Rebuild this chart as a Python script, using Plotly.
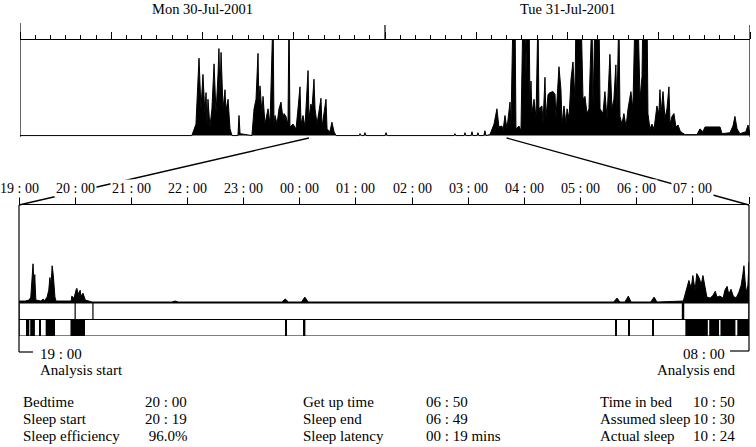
import plotly.graph_objects as go

W, H = 756, 447

# ── Data ─────────────────────────────────────────────────────────────────────

day_labels = ["Mon 30-Jul-2001", "Tue 31-Jul-2001"]
day_centres = [12, 36]

# 48 h overview: hours from Mon 00:00 / activity counts (100 = top of panel)
evening_hours = [
    0, 11.30, 11.57, 11.77, 11.90, 12.03, 12.16, 12.23, 12.30, 12.36,
    12.49, 12.62, 12.76, 12.89, 13.02, 13.08, 13.15, 13.22, 13.35, 13.48,
    13.54, 13.68, 13.81, 13.94, 14.33, 14.40, 14.47, 15.25, 15.39, 15.52,
    15.65, 15.71, 15.78, 15.91, 15.98, 16.11, 16.31, 16.44, 16.64, 16.70,
    16.77, 16.90, 17.03, 17.16, 17.29, 17.36, 17.49, 17.62, 17.69, 17.75,
    17.95, 18.15, 18.28, 18.41, 18.48, 18.61, 18.74, 18.94, 19.00, 19.13,
    19.20, 19.33, 19.40, 19.53, 19.79, 19.86, 20.12, 20.19, 20.38, 20.51,
    20.65, 20.78,
]
evening_counts = [
    0, 0, 12, 81, 28, 64, 23, 45, 12, 38,
    9, 28, 75, 23, 64, 91, 43, 87, 28, 48,
    26, 38, 7, 0, 0, 21, 2, 0, 28, 38,
    86, 33, 52, 23, 41, 12, 28, 12, 130, 12,
    21, 12, 28, 35, 18, 23, 20, 12, 130, 9,
    12, 7, 28, 51, 12, 21, 9, 68, 18, 33,
    28, 59, 28, 12, 39, 9, 38, 7, 4, 14,
    4, 0,
]
night_hours = [
    22.30, 22.36, 22.45, 22.62, 22.68, 22.75, 24.00, 24.07, 24.14, 28.55,
    28.60, 28.66, 29.20, 29.26, 29.32, 29.66, 29.72, 29.78, 30.05, 30.11,
    30.17, 30.50, 30.57, 30.64, 30.90,
]
night_counts = [
    0, 2, 0, 0, 3, 0, 0, 3, 0, 0,
    2, 0, 0, 3, 0, 0, 4, 0, 0, 3,
    0, 0, 5, 0, 1,
]
morning_hours = [
    31.17, 31.36, 31.49, 31.69, 31.76, 31.89, 32.02, 32.22, 32.28, 32.42,
    32.55, 32.61, 32.81, 32.94, 33.07, 33.20, 33.27, 33.34, 33.47, 33.53,
    33.60, 33.66, 33.80, 33.93, 34.06, 34.12, 34.32, 34.39, 34.52, 34.58,
    34.72, 34.85, 35.05, 35.18, 35.24, 35.44, 35.57, 35.64, 35.77, 35.90,
    35.97, 36.10, 36.23, 36.36, 36.49, 36.56, 36.89, 37.02, 37.15, 37.28,
    37.41, 37.61, 37.68, 37.81, 38.07, 38.14, 38.33, 38.46, 38.60, 38.79,
    38.92, 39.05, 39.18, 39.25, 39.38, 39.45, 39.58, 39.71, 39.85, 39.98,
    40.17, 40.30, 40.44, 40.63, 40.77, 40.90, 40.96, 41.23, 41.29, 41.42,
    41.55, 41.69, 41.88, 42.01, 42.08, 42.15, 42.28, 42.41, 42.54, 42.67,
    42.74, 42.87, 43.00, 43.13, 43.27, 43.40, 43.53, 43.73, 44.51, 44.71,
    44.91, 45.04, 46.03, 46.16, 46.68, 46.88, 47.01, 47.15, 47.34, 47.73,
    47.87, 48.00,
]
morning_counts = [
    12, 28, 9, 10, 5, 21, 7, 35, 9, 130,
    130, 7, 10, 5, 130, 130, 59, 130, 130, 38,
    57, 23, 38, 18, 130, 28, 31, 12, 61, 18,
    43, 45, 46, 43, 18, 72, 48, 12, 31, 12,
    28, 18, 59, 77, 38, 130, 130, 38, 41, 23,
    28, 130, 28, 130, 130, 28, 23, 46, 18, 85,
    28, 38, 74, 28, 130, 20, 12, 23, 9, 28,
    46, 28, 130, 130, 38, 62, 130, 130, 23, 7,
    12, 7, 31, 23, 48, 23, 46, 18, 28, 51,
    12, 20, 23, 9, 11, 5, 3, 1, 1, 7,
    4, 9, 9, 2, 3, 10, 20, 7, 2, 4,
    11, 1,
]

# 19:00 - 08:00 analysis window (clock hours, 24 = midnight)
window_start, window_end = 19, 32
window_tick_labels = ["19 : 00", "20 : 00", "21 : 00", "22 : 00", "23 : 00",
                      "00 : 00", "01 : 00", "02 : 00", "03 : 00", "04 : 00",
                      "05 : 00", "06 : 00", "07 : 00"]
win_evening_hours = [
    19.00, 19.11, 19.18, 19.21, 19.25, 19.27, 19.28, 19.30, 19.39, 19.43,
    19.45, 19.50, 19.53, 19.55, 19.57, 19.59, 19.61, 19.64, 19.66, 19.93,
    19.94, 19.98, 20.02, 20.03, 20.05, 20.09, 20.10, 20.14, 20.18, 20.23,
]
win_evening_counts = [
    2, 2, 3, 6, 40, 13, 29, 3, 2, 4,
    2, 6, 13, 26, 18, 38, 29, 6, 2, 2,
    7, 5, 14, 15, 9, 13, 7, 10, 3, 2,
]
win_night_hours = [
    20.30, 21.72, 21.78, 21.84, 23.68, 23.74, 23.80, 24.03, 24.09, 24.15,
    29.59, 29.65, 29.70, 29.79, 29.85, 29.90, 30.25, 30.31, 30.36,
]
win_night_counts = [
    1, 1, 2, 1, 1, 4, 1, 1, 6, 1,
    1, 5, 1, 1, 7, 1, 1, 6, 1,
]
win_morning_hours = [
    30.83, 30.88, 30.93, 30.97, 31.00, 31.04, 31.07, 31.11, 31.15, 31.18,
    31.22, 31.25, 31.31, 31.36, 31.40, 31.43, 31.48, 31.54, 31.57, 31.61,
    31.64, 31.68, 31.72, 31.77, 31.82, 31.86, 31.89, 31.91, 31.93, 31.95,
    31.98, 32.00,
]
win_morning_counts = [
    2, 13, 23, 15, 28, 13, 30, 26, 19, 28,
    13, 6, 5, 8, 12, 6, 7, 5, 13, 17,
    9, 14, 7, 5, 11, 18, 29, 38, 23, 11,
    18, 42,
]

# wake epochs, minutes after 19:00
wake_start_min = [7.5, 12, 21.7, 28.5, 55, 285, 304, 637, 651, 677, 712, 737.5, 749.5, 767.5]
wake_end_min = [11, 17, 23.2, 38.5, 70.5, 286.2, 306, 638.2, 652.2, 678.2, 736, 748, 765.5, 780]

bedtime_h = 20 + 0 / 60
sleep_start_h = 20 + 19 / 60
sleep_end_h = 30 + 49 / 60
getup_h = 30 + 50 / 60

stat_labels = [["Bedtime", "Sleep start", "Sleep efficiency"],
               ["Get up time", "Sleep end", "Sleep latency"],
               ["Time in bed", "Assumed sleep", "Actual sleep"]]
stat_values = [["20 : 00", "20 : 19", " 96.0%"],
               ["06 : 50", "06 : 49", "00 : 19 mins"],
               ["10 : 50", "10 : 30", "10 : 24"]]

# ── Layout geometry (pixels) ─────────────────────────────────────────────────

TOP_X = [20 / W, 750 / W]
TOP_Y = [1 - 137 / H, 1 - 40 / H]
WIN_X = [19 / W, 749 / W]
WIN_Y = [1 - 303 / H, 1 - 205 / H]
ROW_Y = [1 - 336 / H, 1 - 303 / H]
FONT = "Liberation Serif"


def py(p):
    return 1 - p / H


def paper_x(h, dom, rng):
    return dom[0] + (h - rng[0]) / (rng[1] - rng[0]) * (dom[1] - dom[0])


overview_hours = evening_hours + night_hours + morning_hours
overview_counts = evening_counts + night_counts + morning_counts
window_hours = win_evening_hours + win_night_hours + win_morning_hours
window_counts = win_evening_counts + win_night_counts + win_morning_counts
assert len(overview_hours) == len(overview_counts)
assert len(window_hours) == len(window_counts)

fig = go.Figure()

fig.add_trace(go.Scatter(
    x=overview_hours, y=overview_counts, mode="lines",
    line=dict(color="black", width=1), fill="tozeroy", fillcolor="black",
    xaxis="x", yaxis="y", hoverinfo="skip",
))
fig.add_trace(go.Scatter(
    x=window_hours, y=window_counts, mode="lines",
    line=dict(color="black", width=1), fill="tozeroy", fillcolor="black",
    xaxis="x2", yaxis="y2", hoverinfo="skip",
))
fig.add_trace(go.Bar(
    orientation="h",
    y=[0.5] * len(wake_start_min),
    base=[window_start + m / 60 for m in wake_start_min],
    x=[(e - s) / 60 for s, e in zip(wake_start_min, wake_end_min)],
    width=1, marker=dict(color="black", line=dict(width=0)),
    xaxis="x3", yaxis="y3", hoverinfo="skip",
))

shapes = []


def seg(x0, y0, x1, y1, xref="paper", yref="paper", width=1.2):
    shapes.append(dict(type="line", xref=xref, yref=yref, x0=x0, y0=y0, x1=x1, y1=y1,
                       line=dict(color="black", width=width), layer="above"))


# overview frame: day boundaries
seg(0, py(23), 0, py(137), xref="x")
seg(24, py(25), 24, py(40), xref="x")
seg(48, py(25), 48, py(137), xref="x")

# connectors from overview to analysis window
for h in (window_start, window_end):
    seg(paper_x(h, TOP_X, [0, 48]), py(138),
        paper_x(h, WIN_X, [window_start, window_end]), py(205), width=1.3)

# analysis start / end brackets
xl = paper_x(window_start, WIN_X, [window_start, window_end])
xr = paper_x(window_end, WIN_X, [window_start, window_end])
seg(xl, py(205), xl, py(352))
seg(xl, py(352), 33 / W, py(352))
seg(xr, py(205), xr, py(351))
seg(xr, py(351), 730 / W, py(351))

# rows: in-bed row (top) and sleep/wake row (bottom)
for r in (0, 1):
    shapes.append(dict(type="rect", xref="x3", yref="y3", x0=window_start, x1=window_end,
                       y0=r, y1=r + 1, line=dict(color="black", width=1.2), layer="above"))
for h, w in [(bedtime_h, 1.2), (sleep_start_h, 1.2), (sleep_end_h, 1.5), (getup_h, 1.5)]:
    seg(h, 1, h, 2, xref="x3", yref="y3", width=w)

annotations = []
for lab, c in zip(day_labels, day_centres):
    annotations.append(dict(text=lab, x=c, xref="x", y=py(9), yref="paper",
                            yanchor="middle", showarrow=False, font=dict(size=14.5)))
for i, lab in enumerate(window_tick_labels):
    annotations.append(dict(text=lab, x=window_start + i, xref="x2", y=py(188), yref="paper",
                            yanchor="middle", showarrow=False, bgcolor="white", borderpad=1))

annotations += [
    dict(text="19 : 00", x=38 / W, y=py(354), xanchor="left"),
    dict(text="Analysis start", x=38 / W, y=py(370), xanchor="left"),
    dict(text="08 : 00", x=727 / W, y=py(354), xanchor="right"),
    dict(text="Analysis end", x=737 / W, y=py(370), xanchor="right"),
]
for a in annotations[-4:]:
    a.update(xref="paper", yref="paper", yanchor="middle", showarrow=False,
             font=dict(size=15))

label_cols = [21, 301, 598]
value_cols = [143, 424, 691]
row_y = [402, 419, 436]
for c in range(3):
    for r in range(3):
        for txt, col in ((stat_labels[c][r], label_cols[c]), (stat_values[c][r], value_cols[c])):
            annotations.append(dict(text=txt, x=col / W, y=py(row_y[r]),
                                    xref="paper", yref="paper", xanchor="left",
                                    yanchor="middle", showarrow=False, font=dict(size=15)))

AX_OFF = dict(visible=False, showgrid=False, zeroline=False)

fig.update_layout(
    width=W, height=H, margin=dict(l=0, r=0, t=0, b=0),
    paper_bgcolor="white", plot_bgcolor="white", showlegend=False,
    font=dict(family=FONT, size=14, color="black"),
    xaxis=dict(domain=TOP_X, range=[0, 48], side="top", anchor="y",
               showline=True, linecolor="black", linewidth=1.2,
               ticks="outside", ticklen=7, tickwidth=1, tickcolor="black",
               dtick=6, tick0=0, showticklabels=False, showgrid=False, zeroline=False,
               minor=dict(ticks="outside", ticklen=4, dtick=1, tick0=0,
                          tickcolor="black", tickwidth=1, showgrid=False)),
    yaxis=dict(domain=TOP_Y, range=[-1.5, 100], anchor="x", **AX_OFF),
    xaxis2=dict(domain=WIN_X, range=[window_start, window_end], side="top", anchor="y2",
                showline=True, linecolor="black", linewidth=1.2,
                ticks="outside", ticklen=7, tickwidth=1, tickcolor="black",
                dtick=1, tick0=window_start, showticklabels=False,
                showgrid=False, zeroline=False),
    yaxis2=dict(domain=WIN_Y, range=[0, 100], anchor="x2", **AX_OFF),
    xaxis3=dict(domain=WIN_X, range=[window_start, window_end], anchor="y3", **AX_OFF),
    yaxis3=dict(domain=ROW_Y, range=[0, 2], anchor="x3", **AX_OFF),
    shapes=shapes, annotations=annotations,
)

fig.write_html("out.html", config={"displayModeBar": False},
               post_script="document.body.style.margin='0';")
